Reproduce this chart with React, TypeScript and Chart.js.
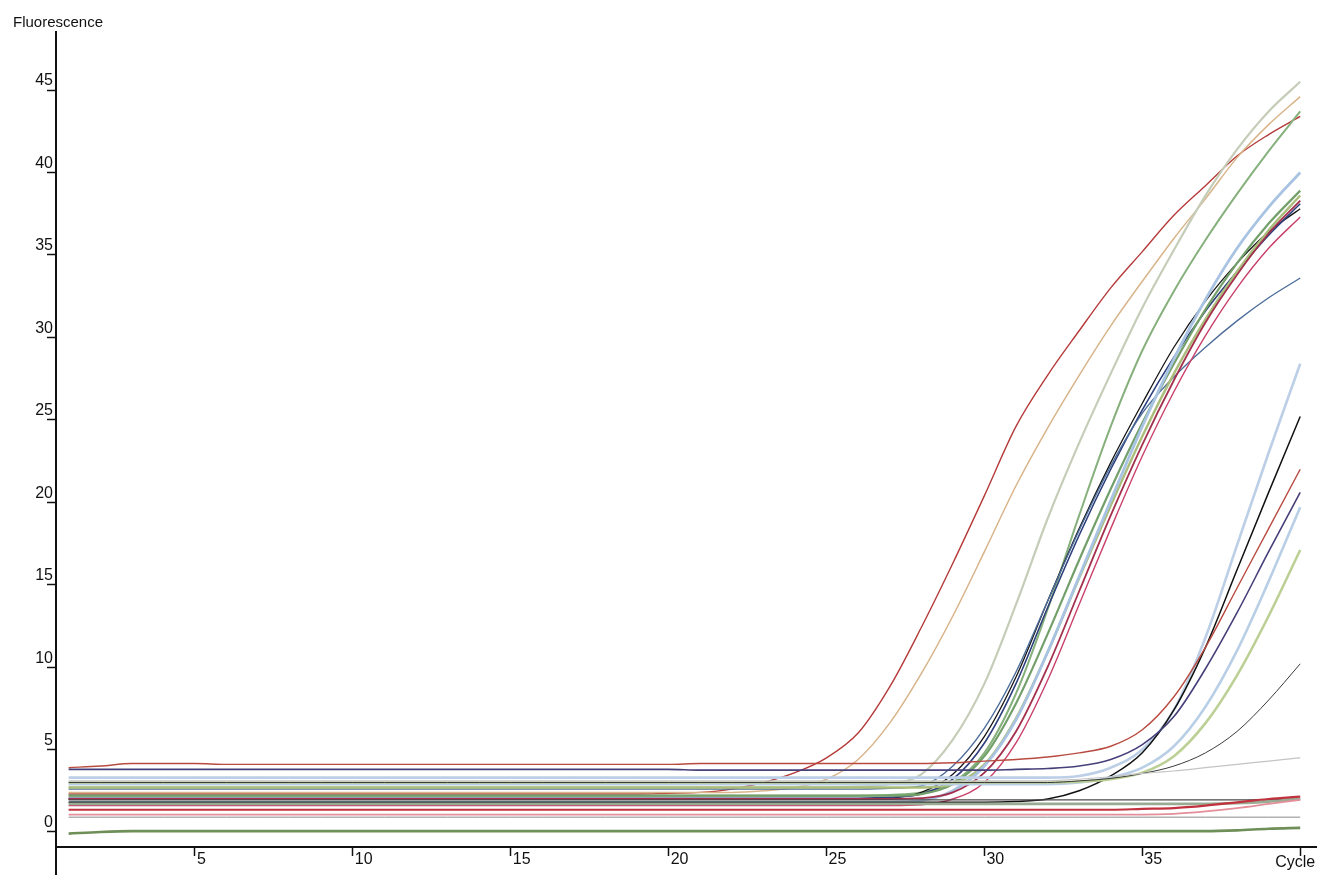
import React, { useEffect, useRef } from "react";
import { Chart, registerables } from "chart.js";

Chart.register(...registerables);

// ---- Axis text ----
const yAxisTitle = "Fluorescence";
const xAxisTitle = "Cycle";
const yTickValues = [0, 5, 10, 15, 20, 25, 30, 35, 40, 45];
const xTickValues = [5, 10, 15, 20, 25, 30, 35, 40];

// ---- Cycles ----
const cycles = [
  1, 2, 3, 4, 5, 6, 7, 8, 9, 10, 11, 12, 13, 14, 15, 16, 17, 18, 19, 20,
  21, 22, 23, 24, 25, 26, 27, 28, 29, 30, 31, 32, 33, 34, 35, 36, 37, 38, 39, 40,
];

// ---- Fluorescence series (one value per cycle) ----
const earlyRed = [
  2.3, 2.3, 2.3, 2.3, 2.3, 2.3, 2.3, 2.3, 2.3, 2.3, 2.3, 2.3, 2.3, 2.3, 2.3, 2.3, 2.3, 2.3, 2.3, 2.35,
  2.4, 2.6, 3.0, 3.6, 4.5, 6.0, 8.8, 12.4, 16.3, 20.4, 24.6, 27.7, 30.4, 33.0, 35.2, 37.4, 39.2, 41.0, 42.3, 43.4,
];
const tan = [
  2.4, 2.4, 2.4, 2.4, 2.4, 2.4, 2.4, 2.4, 2.4, 2.4, 2.4, 2.4, 2.4, 2.4, 2.4, 2.4, 2.4, 2.4, 2.4, 2.4,
  2.4, 2.4, 2.5, 2.7, 3.2, 4.4, 6.6, 9.6, 13.1, 17.0, 21.0, 24.5, 27.7, 30.7, 33.4, 36.0, 38.4, 40.9, 42.9, 44.6,
];
const paleSage = [
  2.7, 2.7, 2.7, 2.7, 2.7, 2.7, 2.7, 2.7, 2.7, 2.7, 2.7, 2.7, 2.7, 2.7, 2.7, 2.7, 2.7, 2.7, 2.7, 2.7,
  2.7, 2.7, 2.7, 2.7, 2.7, 2.75, 2.9, 3.5, 5.6, 9.0, 13.8, 19.0, 23.6, 27.8, 31.8, 35.3, 38.6, 41.4, 43.7, 45.5,
];
const green = [
  2.2, 2.2, 2.2, 2.2, 2.2, 2.2, 2.2, 2.2, 2.2, 2.2, 2.2, 2.2, 2.2, 2.2, 2.2, 2.2, 2.2, 2.2, 2.2, 2.2,
  2.2, 2.2, 2.2, 2.2, 2.2, 2.2, 2.25, 2.4, 3.0, 4.8, 8.4, 13.5, 19.2, 24.6, 29.2, 32.8, 35.9, 38.7, 41.3, 43.7,
];
const black = [
  2.0, 2.0, 2.0, 2.0, 2.0, 2.0, 2.0, 2.0, 2.0, 2.0, 2.0, 2.0, 2.0, 2.0, 2.0, 2.0, 2.0, 2.0, 2.0, 2.0,
  2.0, 2.0, 2.0, 2.0, 2.0, 2.0, 2.05, 2.4, 3.5, 5.8, 9.4, 14.0, 18.4, 22.4, 26.0, 29.4, 32.2, 34.5, 36.4, 37.8,
];
const navy = [
  2.05, 2.05, 2.05, 2.05, 2.05, 2.05, 2.05, 2.05, 2.05, 2.05, 2.05, 2.05, 2.05, 2.05, 2.05, 2.05, 2.05, 2.05, 2.05, 2.05,
  2.05, 2.05, 2.05, 2.05, 2.05, 2.05, 2.1, 2.3, 3.2, 5.4, 9.0, 13.6, 18.0, 22.0, 25.6, 28.8, 31.6, 34.0, 36.2, 38.1,
];
const steelBlue = [
  2.6, 2.6, 2.6, 2.6, 2.6, 2.6, 2.6, 2.6, 2.6, 2.6, 2.6, 2.6, 2.6, 2.6, 2.6, 2.6, 2.6, 2.6, 2.6, 2.6,
  2.6, 2.6, 2.6, 2.6, 2.6, 2.6, 2.65, 2.8, 4.0, 6.3, 9.7, 14.0, 18.3, 22.2, 25.4, 27.6, 29.4, 31.0, 32.4, 33.6,
];
const greenA = [
  2.2, 2.2, 2.2, 2.2, 2.2, 2.2, 2.2, 2.2, 2.2, 2.2, 2.2, 2.2, 2.2, 2.2, 2.2, 2.2, 2.2, 2.2, 2.2, 2.2,
  2.2, 2.2, 2.2, 2.2, 2.2, 2.2, 2.2, 2.3, 2.9, 4.6, 7.8, 12.0, 16.5, 20.8, 24.8, 28.4, 31.7, 34.5, 36.9, 38.9,
];
const oliveB = [
  2.7, 2.7, 2.7, 2.7, 2.7, 2.7, 2.7, 2.7, 2.7, 2.7, 2.7, 2.7, 2.7, 2.7, 2.7, 2.7, 2.7, 2.7, 2.7, 2.7,
  2.7, 2.7, 2.7, 2.7, 2.7, 2.7, 2.7, 2.7, 2.9, 4.1, 6.9, 10.9, 15.4, 19.8, 24.0, 27.8, 31.1, 34.0, 36.5, 38.6,
];
const lightBlueA = [
  1.8, 1.8, 1.8, 1.8, 1.8, 1.8, 1.8, 1.8, 1.8, 1.8, 1.8, 1.8, 1.8, 1.8, 1.8, 1.8, 1.8, 1.8, 1.8, 1.8,
  1.8, 1.8, 1.8, 1.8, 1.8, 1.8, 1.8, 1.9, 2.5, 4.0, 6.8, 10.9, 15.5, 20.1, 24.6, 28.7, 32.3, 35.4, 37.9, 40.0,
];
const crimson = [
  2.0, 2.0, 2.0, 2.0, 2.0, 2.0, 2.0, 2.0, 2.0, 2.0, 2.0, 2.0, 2.0, 2.0, 2.0, 2.0, 2.0, 2.0, 2.0, 2.0,
  2.0, 2.0, 2.0, 2.0, 2.0, 2.0, 2.0, 2.05, 2.4, 3.6, 6.1, 10.0, 14.6, 19.2, 23.5, 27.4, 30.9, 33.8, 36.3, 38.3,
];
const magenta = [
  1.6, 1.6, 1.6, 1.6, 1.6, 1.6, 1.6, 1.6, 1.6, 1.6, 1.6, 1.6, 1.6, 1.6, 1.6, 1.6, 1.6, 1.6, 1.6, 1.6,
  1.6, 1.6, 1.6, 1.6, 1.6, 1.6, 1.6, 1.65, 2.0, 3.0, 5.4, 9.2, 13.8, 18.4, 22.8, 26.7, 30.1, 33.0, 35.4, 37.3,
];
const lateLightBlue = [
  3.3, 3.3, 3.3, 3.3, 3.3, 3.3, 3.3, 3.3, 3.3, 3.3, 3.3, 3.3, 3.3, 3.3, 3.3, 3.3, 3.3, 3.3, 3.3, 3.3,
  3.3, 3.3, 3.3, 3.3, 3.3, 3.3, 3.3, 3.3, 3.3, 3.3, 3.3, 3.3, 3.4, 3.9, 5.0, 7.4, 11.8, 17.4, 23.0, 28.4,
];
const lateBlack = [
  1.8, 1.8, 1.8, 1.8, 1.8, 1.8, 1.8, 1.8, 1.8, 1.8, 1.8, 1.8, 1.8, 1.8, 1.8, 1.8, 1.8, 1.8, 1.8, 1.8,
  1.8, 1.8, 1.8, 1.8, 1.8, 1.8, 1.8, 1.8, 1.8, 1.8, 1.85, 2.0, 2.5, 3.4, 4.8, 7.4, 11.2, 15.9, 20.6, 25.2,
];
const lateRed = [
  3.9, 4.0, 4.15, 4.15, 4.15, 4.1, 4.1, 4.1, 4.1, 4.1, 4.1, 4.1, 4.1, 4.1, 4.1, 4.1, 4.1, 4.1, 4.1, 4.1,
  4.15, 4.15, 4.15, 4.15, 4.15, 4.15, 4.15, 4.15, 4.2, 4.3, 4.4, 4.55, 4.8, 5.2, 6.2, 8.2, 11.2, 14.8, 18.4, 22.0,
];
const latePurple = [
  3.8, 3.8, 3.8, 3.8, 3.8, 3.8, 3.8, 3.8, 3.8, 3.8, 3.8, 3.8, 3.8, 3.8, 3.8, 3.8, 3.8, 3.8, 3.8, 3.8,
  3.75, 3.75, 3.75, 3.75, 3.75, 3.75, 3.75, 3.75, 3.75, 3.75, 3.8, 3.85, 4.0, 4.4, 5.3, 7.0, 9.9, 13.3, 17.0, 20.6,
];
const lateLightBlueB = [
  2.9, 2.9, 2.9, 2.9, 2.9, 2.9, 2.9, 2.9, 2.9, 2.9, 2.9, 2.9, 2.9, 2.9, 2.9, 2.9, 2.9, 2.9, 2.9, 2.9,
  2.9, 2.9, 2.9, 2.9, 2.9, 2.9, 2.9, 2.9, 2.9, 2.9, 2.9, 2.9, 3.0, 3.3, 3.9, 5.2, 7.6, 11.0, 15.2, 19.7,
];
const lateLightGreen = [
  3.0, 3.0, 3.0, 3.0, 3.0, 3.0, 3.0, 3.0, 3.0, 3.0, 3.0, 3.0, 3.0, 3.0, 3.0, 3.0, 3.0, 3.0, 3.0, 3.0,
  3.0, 3.0, 3.0, 3.0, 3.0, 3.0, 3.0, 3.0, 3.0, 3.0, 3.0, 3.0, 3.05, 3.2, 3.6, 4.6, 6.6, 9.5, 13.1, 17.1,
];
const lateThinBlack = [
  3.0, 3.0, 3.0, 3.0, 3.0, 3.0, 3.0, 3.0, 3.0, 3.0, 3.0, 3.0, 3.0, 3.0, 3.0, 3.0, 3.0, 3.0, 3.0, 3.0,
  3.0, 3.0, 3.0, 3.0, 3.0, 3.0, 3.0, 3.0, 3.0, 3.0, 3.0, 3.0, 3.1, 3.25, 3.55, 4.0, 4.8, 6.1, 8.0, 10.2,
];
const lateGray = [
  3.1, 3.1, 3.1, 3.1, 3.1, 3.1, 3.1, 3.1, 3.1, 3.1, 3.1, 3.1, 3.1, 3.1, 3.1, 3.1, 3.1, 3.1, 3.1, 3.1,
  3.1, 3.1, 3.1, 3.1, 3.1, 3.1, 3.1, 3.1, 3.1, 3.1, 3.1, 3.1, 3.2, 3.35, 3.55, 3.7, 3.9, 4.1, 4.3, 4.5,
];
const flatDarkGray = [
  1.95, 1.95, 1.95, 1.95, 1.95, 1.95, 1.95, 1.95, 1.95, 1.95, 1.95, 1.95, 1.95, 1.95, 1.95, 1.95, 1.95, 1.95, 1.95, 1.95,
  1.95, 1.95, 1.95, 1.95, 1.95, 1.95, 1.95, 1.95, 1.95, 1.95, 1.95, 1.95, 1.95, 1.95, 1.95, 1.95, 1.95, 1.95, 1.97, 2.0,
];
const flatGrayGreen = [
  1.7, 1.7, 1.7, 1.7, 1.7, 1.7, 1.7, 1.7, 1.7, 1.7, 1.7, 1.7, 1.7, 1.7, 1.7, 1.7, 1.7, 1.7, 1.7, 1.7,
  1.7, 1.7, 1.7, 1.7, 1.7, 1.7, 1.7, 1.7, 1.7, 1.7, 1.7, 1.7, 1.7, 1.7, 1.7, 1.7, 1.7, 1.75, 1.85, 2.0,
];
const flatRed = [
  1.35, 1.35, 1.35, 1.35, 1.35, 1.35, 1.35, 1.35, 1.35, 1.35, 1.35, 1.35, 1.35, 1.35, 1.35, 1.35, 1.35, 1.35, 1.35, 1.35,
  1.35, 1.35, 1.35, 1.35, 1.35, 1.35, 1.35, 1.35, 1.35, 1.35, 1.35, 1.35, 1.35, 1.35, 1.4, 1.45, 1.6, 1.8, 2.0, 2.15,
];
const flatPink = [
  1.05, 1.05, 1.05, 1.05, 1.05, 1.05, 1.05, 1.05, 1.05, 1.05, 1.05, 1.05, 1.05, 1.05, 1.05, 1.05, 1.05, 1.05, 1.05, 1.05,
  1.05, 1.05, 1.05, 1.05, 1.05, 1.05, 1.05, 1.05, 1.05, 1.05, 1.05, 1.05, 1.05, 1.05, 1.05, 1.1, 1.25, 1.45, 1.7, 1.95,
];
const flatGray = [
  0.9, 0.9, 0.9, 0.9, 0.9, 0.9, 0.9, 0.9, 0.9, 0.9, 0.9, 0.9, 0.9, 0.9, 0.9, 0.9, 0.9, 0.9, 0.9, 0.9,
  0.9, 0.9, 0.9, 0.9, 0.9, 0.9, 0.9, 0.9, 0.9, 0.9, 0.9, 0.9, 0.9, 0.9, 0.9, 0.9, 0.9, 0.9, 0.9, 0.9,
];
const flatBottomGreen = [
  -0.1, 0.0, 0.05, 0.05, 0.05, 0.05, 0.05, 0.05, 0.05, 0.05, 0.05, 0.05, 0.05, 0.05, 0.05, 0.05, 0.05, 0.05, 0.05, 0.05,
  0.05, 0.05, 0.05, 0.05, 0.05, 0.05, 0.05, 0.05, 0.05, 0.05, 0.05, 0.05, 0.05, 0.05, 0.05, 0.05, 0.05, 0.1, 0.2, 0.25,
];

// ---- Styles (kept apart from the data) ----
const seriesStyles: { values: number[]; color: string; width: number }[] = [
  { values: flatBottomGreen, color: "#6f8f58", width: 2.6 },
  { values: flatGray, color: "#8a8a8a", width: 1 },
  { values: flatPink, color: "#e48e9a", width: 1.8 },
  { values: flatRed, color: "#c2323e", width: 2.2 },
  { values: flatGrayGreen, color: "#9aab94", width: 2.8 },
  { values: flatDarkGray, color: "#4a4a4a", width: 1.3 },
  { values: lateGray, color: "#c4c4c4", width: 1.2 },
  { values: lateThinBlack, color: "#3a3a3a", width: 1 },
  { values: lateLightGreen, color: "#bcd096", width: 2.6 },
  { values: lateLightBlueB, color: "#b9cfe6", width: 2.6 },
  { values: latePurple, color: "#46407a", width: 1.6 },
  { values: lateRed, color: "#b84a40", width: 1.4 },
  { values: lateBlack, color: "#111111", width: 1.5 },
  { values: lateLightBlue, color: "#bccfe6", width: 2.6 },
  { values: magenta, color: "#c9406a", width: 1.4 },
  { values: crimson, color: "#a3304c", width: 1.8 },
  { values: lightBlueA, color: "#a9c3e2", width: 2.8 },
  { values: oliveB, color: "#aabd7a", width: 2.4 },
  { values: greenA, color: "#73a06a", width: 2.2 },
  { values: steelBlue, color: "#4d6d9a", width: 1.4 },
  { values: navy, color: "#2d3f7c", width: 1.6 },
  { values: black, color: "#151515", width: 1.3 },
  { values: green, color: "#86b07c", width: 2 },
  { values: paleSage, color: "#c5cdb8", width: 2.2 },
  { values: tan, color: "#d8b48a", width: 1.5 },
  { values: earlyRed, color: "#b53a3a", width: 1.4 },
];

const FONT = "'Liberation Sans', Arial, sans-serif";

const decorPlugin = {
  id: "decor",
  afterDraw(chart: any) {
    const ctx = chart.ctx as CanvasRenderingContext2D;
    const xs = chart.scales.x;
    const ys = chart.scales.y;
    ctx.save();
    // y axis continues below the x axis
    ctx.strokeStyle = "#111";
    ctx.lineWidth = 2;
    ctx.beginPath();
    ctx.moveTo(xs.left, ys.bottom);
    ctx.lineTo(xs.left, chart.height);
    ctx.stroke();
    // axis titles
    ctx.fillStyle = "#111";
    ctx.font = `15px ${FONT}`;
    ctx.textAlign = "left";
    ctx.textBaseline = "alphabetic";
    ctx.fillText(yAxisTitle, 13, 27);
    ctx.font = `16px ${FONT}`;
    ctx.textAlign = "right";
    ctx.fillText(xAxisTitle, xs.getPixelForValue(40) + 15, ys.bottom + 20);
    ctx.restore();
  },
};

export default function App() {
  const canvasRef = useRef<HTMLCanvasElement | null>(null);

  useEffect(() => {
    if (!canvasRef.current) return;
    const datasets = seriesStyles.map((s) => ({
      data: cycles.map((c, i) => ({ x: c, y: s.values[i] })),
      borderColor: s.color,
      borderWidth: s.width,
      pointRadius: 0,
      fill: false,
      cubicInterpolationMode: "monotone" as const,
    }));
    const chart = new Chart(canvasRef.current, {
      type: "line",
      data: { datasets },
      plugins: [decorPlugin],
      options: {
        animation: false,
        responsive: false,
        maintainAspectRatio: false,
        events: [],
        layout: { padding: { top: 32, right: 3, left: 0, bottom: 0 } },
        plugins: {
          legend: { display: false },
          tooltip: { enabled: false },
          title: { display: false },
        },
        scales: {
          x: {
            type: "linear",
            min: 0.6,
            max: 40.5,
            afterBuildTicks: (scale: any) => {
              scale.ticks = xTickValues.map((v) => ({ value: v }));
            },
            afterFit: (scale: any) => {
              scale.height = 28;
            },
            ticks: {
              callback: (v: any) => (v === 40 ? "" : String(v)),
              align: "start",
              labelOffset: 2,
              padding: -6,
              autoSkip: false,
              maxRotation: 0,
              minRotation: 0,
              color: "#111",
              font: { family: FONT, size: 16 },
            },
            grid: {
              drawOnChartArea: false,
              drawTicks: true,
              tickLength: 9,
              tickColor: "#111",
              tickWidth: 1.5,
            },
            border: { display: true, color: "#111", width: 2 },
          },
          y: {
            type: "linear",
            min: -0.91,
            max: 48.52,
            afterBuildTicks: (scale: any) => {
              scale.ticks = yTickValues.map((v) => ({ value: v }));
            },
            afterFit: (scale: any) => {
              scale.width = 56;
            },
            ticks: {
              callback: (v: any) => String(v),
              labelOffset: -9,
              padding: -6,
              autoSkip: false,
              color: "#111",
              font: { family: FONT, size: 16 },
            },
            grid: {
              drawOnChartArea: false,
              drawTicks: true,
              tickLength: 9,
              tickColor: "#111",
              tickWidth: 1.5,
            },
            border: { display: true, color: "#111", width: 2 },
          },
        },
      } as any,
    });
    return () => chart.destroy();
  }, []);

  return (
    <div
      style={{
        position: "fixed",
        left: 0,
        top: 0,
        width: 1319,
        height: 875,
        background: "#ffffff",
      }}
    >
      <canvas ref={canvasRef} width={1319} height={875} style={{ display: "block" }} />
    </div>
  );
}
